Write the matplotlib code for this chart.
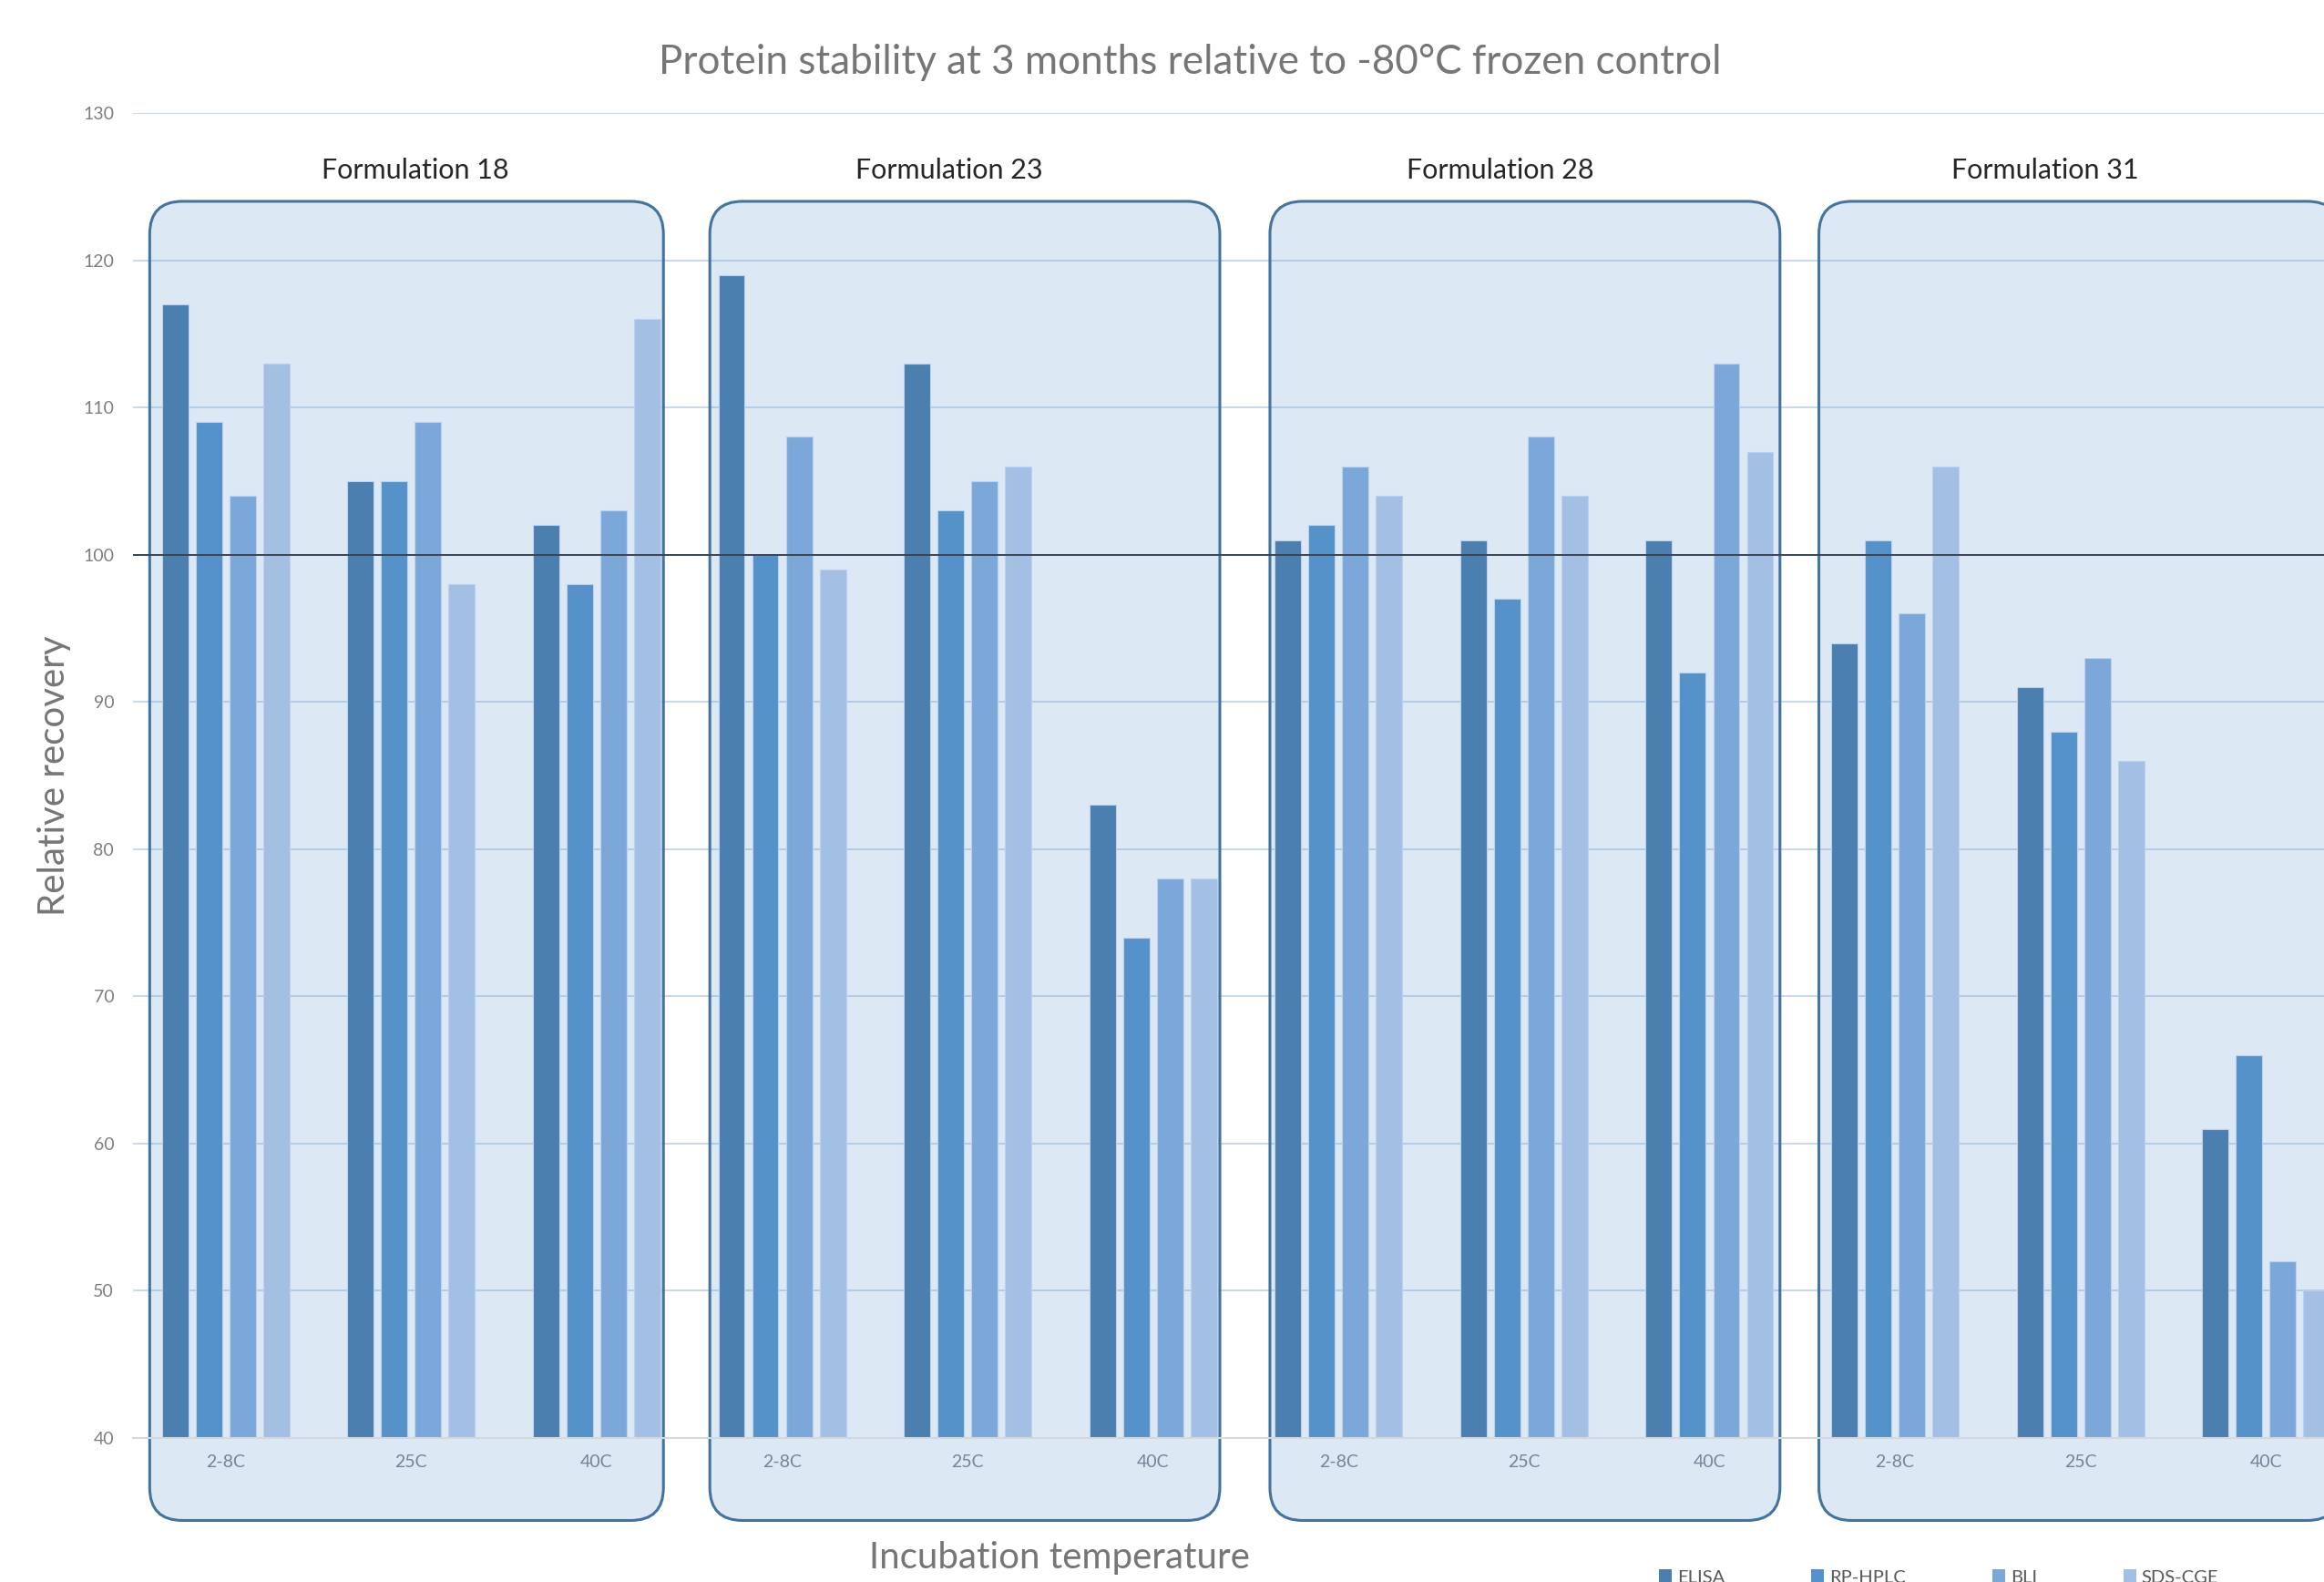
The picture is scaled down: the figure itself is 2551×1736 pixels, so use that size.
import matplotlib

matplotlib.use("Agg")
import matplotlib.pyplot as plt
import numpy as np
from matplotlib.colors import to_rgba
from matplotlib.patches import FancyBboxPatch, Patch
from matplotlib.transforms import IdentityTransform

plt.rcParams["font.family"] = ["Lato", "DejaVu Sans"]

# data
formulations = ["Formulation 18", "Formulation 23", "Formulation 28", "Formulation 31"]
temperatures = ["2-8C", "25C", "40C"]
methods = ["ELISA", "RP-HPLC", "BLI", "SDS-CGE"]
elisa = [117, 105, 102, 119, 113, 83, 101, 101, 101, 94, 91, 61]
rp_hplc = [109, 105, 98, 100, 103, 74, 102, 97, 92, 101, 88, 66]
bli = [104, 109, 103, 108, 105, 78, 106, 108, 113, 96, 93, 52]
sds_cge = [113, 98, 116, 99, 106, 78, 104, 104, 107, 106, 86, 50]
y_ticks = [40, 50, 60, 70, 80, 90, 100, 110, 120, 130]
control_level = 100

colors = ["#4A7FAF", "#5592C9", "#7CA8D9", "#A3C0E4"]
W, H, DPI = 2551, 1736, 100

# panel edges (category units) and label centres, as drawn by hand in the original
box_left = [-0.41, 2.61, 5.63, 8.59]
box_right = [2.36, 5.36, 8.38, 11.40]
label_x = [1.02, 3.90, 6.87, 9.81]

fig = plt.figure(figsize=(W / DPI, H / DPI), dpi=DPI)
ax = fig.add_axes([146 / W, 1 - 1578 / H, (2589 - 146) / W, (1578 - 124) / H])
ax.patch.set_alpha(0)

labels = [t for _ in formulations for t in temperatures]
x = np.arange(len(labels))
series = [elisa, rp_hplc, bli, sds_cge]
pitch, width = 0.182, 0.142
for j, (vals, name) in enumerate(zip(series, methods)):
    ax.bar(x + (j - 1.5) * pitch, np.array(vals) - y_ticks[0], width,
           bottom=y_ticks[0], color=colors[j], edgecolor="#BCD2EC",
           linewidth=0.8, zorder=2, label=name)

ax.set_xlim(-0.5, len(labels) - 0.5)
ax.set_ylim(y_ticks[0], y_ticks[-1])
ax.set_yticks(y_ticks)
ax.set_xticks(x)
ax.set_xticklabels(labels)
ax.tick_params(axis="y", length=0, pad=15, labelsize=14, labelcolor="#7F7F7F")
ax.tick_params(axis="x", length=0, pad=13, labelsize=14, labelcolor="#767C86")
for side in ("left", "right", "top"):
    ax.spines[side].set_visible(False)
ax.spines["bottom"].set_color("#D4D8DD")
ax.spines["bottom"].set_linewidth(1.5)
ax.yaxis.grid(True, color="#C4D6EB", linewidth=1.3, zorder=0.5)
ax.set_axisbelow(True)
ax.axhline(control_level, color="#3A4454", linewidth=1.4, zorder=3)

# rounded panels around each formulation, drawn in pixel space
for k in range(len(formulations)):
    (x0, y0) = ax.transData.transform((box_left[k], 34.4))
    (x1, y1) = ax.transData.transform((box_right[k], 124.0))
    box = FancyBboxPatch((x0, y0), x1 - x0, y1 - y0,
                         boxstyle="round,pad=0,rounding_size=36",
                         facecolor=to_rgba("#6D9FD1", 0.24),
                         edgecolor="#43739F", linewidth=2.2,
                         transform=IdentityTransform(), clip_on=False, zorder=1)
    ax.add_patch(box)

for lx, name in zip(label_x, formulations):
    px, _ = ax.transData.transform((lx, 0))
    fig.text(px / W, 1 - 187 / H, name, ha="center", va="center",
             fontsize=22, color="#262626")

ax.set_xlim(-0.5, len(labels) - 0.5)
ax.set_ylim(y_ticks[0], y_ticks[-1])

fig.text(1306 / W, 1 - 68 / H,
         "Protein stability at 3 months relative to -80°C frozen control",
         ha="center", va="center", fontsize=31.7, color="#767676")
fig.text(60 / W, 1 - 851 / H, "Relative recovery", rotation=90,
         ha="center", va="center", fontsize=29, color="#767676")
fig.text(1163 / W, 1 - 1710 / H, "Incubation temperature",
         ha="center", va="center", fontsize=29, color="#767676")

handles = [Patch(facecolor=c, edgecolor="none") for c in colors]
fig.legend(handles, methods, loc="center left", ncol=4, frameon=False,
           bbox_to_anchor=(1821 / W, 1 - 1731 / H), fontsize=14.5,
           labelcolor="#595959", handlelength=0.7, handleheight=0.7,
           handletextpad=0.3, columnspacing=4.7, borderpad=0, borderaxespad=0)

fig.savefig("out.png", dpi=DPI)
plt.close(fig)
